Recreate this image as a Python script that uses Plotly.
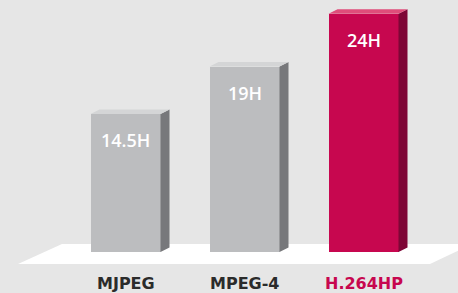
import plotly.graph_objects as go

categories = ["MJPEG", "MPEG-4", "H.264HP"]
values = [14.5, 19, 24]
value_labels = ["14.5H", "19H", "24H"]

W, H = 458, 293
X0PX, XSTEP = 125.5, 119.0      # pixel centre of first bar, spacing
Y0PX, YK = 267.0, 10.55         # pixel of value 0, pixels per unit
BASE = (Y0PX - 252.0) / YK      # floor level in data units

def xd(px):
    return (px - X0PX) / XSTEP

def yd(py):
    return (Y0PX - py) / YK

front = ["#bcbdbf", "#bcbdbf", "#c7074f"]
side = ["#77787b", "#77787b", "#7e0636"]
top = ["#d4d5d6", "#d4d5d6", "#df4d7a"]
lab_col = ["#2b2b2b", "#2b2b2b", "#c7074f"]

bw = 70 / XSTEP
dx = 9 / XSTEP
dy = 4.5 / YK

fig = go.Figure()
fig.add_trace(go.Bar(
    x=list(range(len(categories))),
    y=[v - BASE for v in values],
    base=BASE,
    width=bw,
    marker=dict(color=front, line=dict(width=0)),
    hoverinfo="skip",
))

shapes = []
# floor
fx = [18, 62, 472, 430]
fy = [264, 244, 244, 264]
path = "M " + " L ".join(f"{xd(a)},{yd(b)}" for a, b in zip(fx, fy)) + " Z"
shapes.append(dict(type="path", path=path, xref="x", yref="y",
                   fillcolor="#ffffff", line=dict(width=0), layer="below"))

for i, v in enumerate(values):
    L = i - bw / 2
    R = i + bw / 2
    sp = f"M {R},{BASE} L {R+dx},{BASE+dy} L {R+dx},{v+dy} L {R},{v} Z"
    shapes.append(dict(type="path", path=sp, xref="x", yref="y",
                       fillcolor=side[i], line=dict(width=0)))
    tp = f"M {L},{v} L {L+dx},{v+dy} L {R+dx},{v+dy} L {R},{v} Z"
    shapes.append(dict(type="path", path=tp, xref="x", yref="y",
                       fillcolor=top[i], line=dict(width=0)))

annotations = []
for i, v in enumerate(values):
    annotations.append(dict(
        x=i, y=v - 26 / YK, xref="x", yref="y", text=value_labels[i],
        showarrow=False, xanchor="center", yanchor="middle",
        font=dict(family="Open Sans", size=18, color="#ffffff", weight=600)))
    annotations.append(dict(
        x=i, y=yd(283), xref="x", yref="y", text=categories[i],
        showarrow=False, xanchor="center", yanchor="middle",
        font=dict(family="DejaVu Sans", size=16, color=lab_col[i], weight=700)))

fig.update_layout(
    width=W, height=H, autosize=False,
    margin=dict(l=0, r=0, t=0, b=0, pad=0),
    paper_bgcolor="#e6e6e6", plot_bgcolor="#e6e6e6",
    showlegend=False,
    xaxis=dict(range=[xd(0), xd(W)], visible=False, fixedrange=True),
    yaxis=dict(range=[yd(H), yd(0)], visible=False, fixedrange=True),
    shapes=shapes, annotations=annotations,
    bargap=0,
)

fig.write_html("out.html", config={"displayModeBar": False},
               post_script="document.body.style.margin='0';document.body.style.overflow='hidden';")
